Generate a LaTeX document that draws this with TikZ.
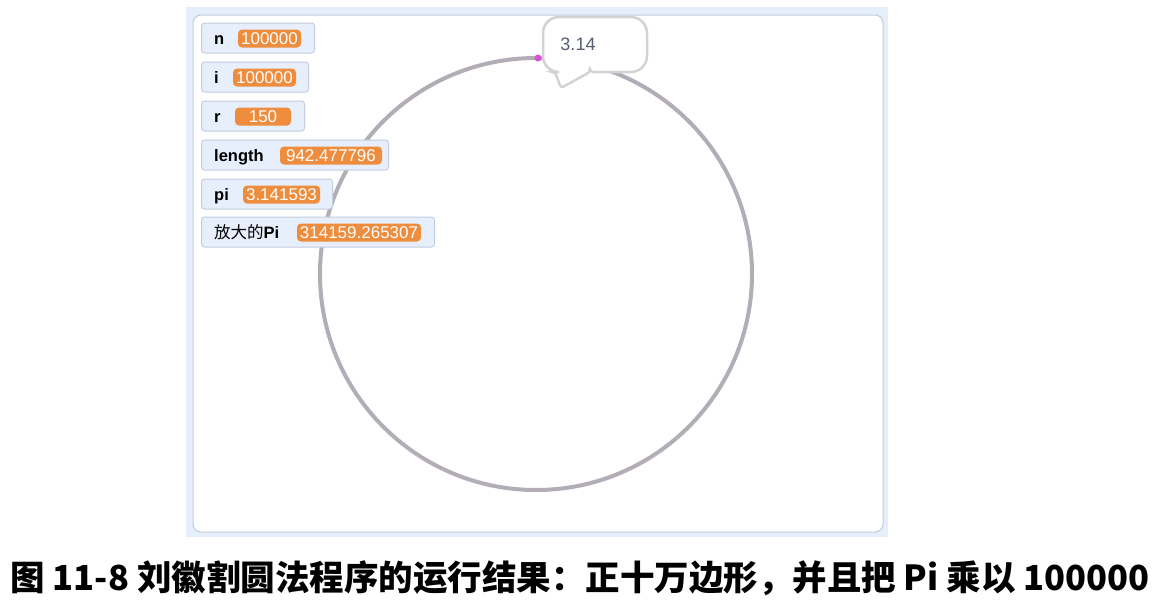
\documentclass[tikz,border=0pt]{standalone}
\usepackage{fontspec}
\setmainfont{Liberation Sans}
\newfontfamily\cjk{Noto Sans CJK SC}
\definecolor{framebg}{HTML}{E5EEFB}
\definecolor{stageline}{HTML}{C2CAD8}
\definecolor{monfill}{HTML}{E6EFFB}
\definecolor{monline}{HTML}{C3CDDF}
\definecolor{valorange}{HTML}{EE8D3E}
\definecolor{bubbleline}{HTML}{D3D3D3}
\definecolor{bubbletext}{HTML}{575E75}
\definecolor{penline}{HTML}{B2ADB6}
\definecolor{dotpink}{HTML}{D84FD8}

\begin{document}
\begin{tikzpicture}[x=1pt,y=-1pt,
  monitor/.style={draw=monline, fill=monfill, rounded corners=3pt, line width=1pt,
    minimum height=30pt, anchor=west, inner sep=0pt},
  varname/.style={anchor=west, inner sep=0pt, text=black, text height=12pt, text depth=0pt,
    font=\bfseries\fontsize{16.5}{17}\selectfont},
  varval/.style={fill=valorange, rounded corners=4pt, text=white, inner sep=0pt,
    text height=12pt, text depth=0pt, minimum height=18pt,
    font=\fontsize{17}{17}\selectfont}]
\useasboundingbox (0,0) rectangle (1160,606);
% stage
\fill[framebg] (186,7) rectangle (888,537);
\draw[stageline, fill=white, rounded corners=8pt, line width=1pt] (193,15) rectangle (883,532);
% pen trace
\draw[penline, line width=4pt] (536,274) circle[radius=216pt];
\fill[dotpink] (538,58) circle[radius=3.5pt];
% monitors
\node[monitor, minimum width=113pt] (mn) at (201,38) {};
\node[varname] (ln) at (214,38) {n};
\node[varval, minimum width=63pt] (vn) at (269.5,38.5) {100000};
\node[monitor, minimum width=107pt] (mi) at (201,77) {};
\node[varname] (li) at (214,77) {i};
\node[varval, minimum width=63pt] (vi) at (264.5,77.5) {100000};
\node[monitor, minimum width=103pt] (mr) at (201,116) {};
\node[varname] (lr) at (214,116) {r};
\node[varval, minimum width=56pt] (vr) at (263,116.5) {150};
\node[monitor, minimum width=187pt] (mlen) at (201,155) {};
\node[varname] (llen) at (214,155) {length};
\node[varval, minimum width=102pt] (vlen) at (331,155.5) {942.477796};
\node[monitor, minimum width=131pt] (mpi) at (201,194) {};
\node[varname] (lpi) at (214,194) {pi};
\node[varval, minimum width=77pt] (vpi) at (281.5,194.5) {3.141593};
\node[monitor, minimum width=233pt] (mbig) at (201,232) {};
\node[varname] (lbig) at (214,232) {{\cjk\mdseries 放大的}Pi};
\node[varval, minimum width=124pt] (vbig) at (359,232.5) {314159.265307};
% speech bubble
\draw[bubbleline, line width=2.5pt, fill=white, rounded corners=16pt]
  (590,72) -- (647,72) -- (647,17) -- (543,17) -- (543,72)
  [rounded corners=3pt] -- (555,72) -- (561,88) -- (590,72) -- cycle;
\node[text=bubbletext, font=\fontsize{18}{18}\selectfont] (say) at (578,44) {3.14};
% caption
\node[font=\cjk\bfseries\fontsize{34.5}{35}\selectfont] (cap) at (580,578)
  {图 11-8 刘徽割圆法程序的运行结果：正十万边形，并且把 Pi 乘以 100000};
\end{tikzpicture}
\end{document}
